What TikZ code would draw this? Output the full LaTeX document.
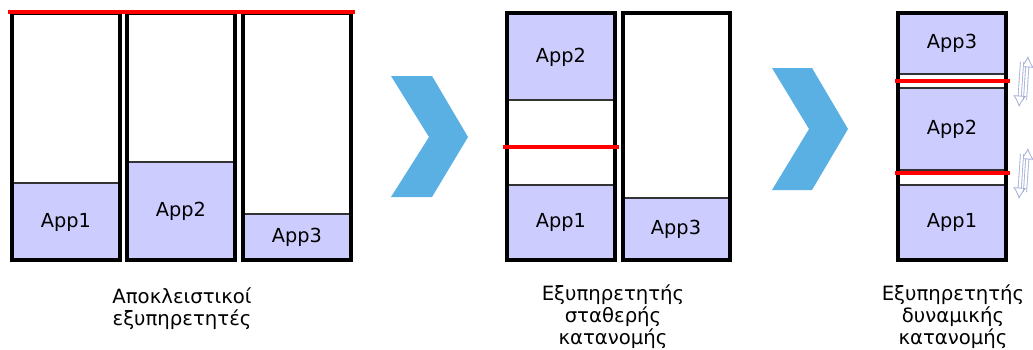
\documentclass[tikz,border=0pt]{standalone}
\usepackage{fontspec}
\setmainfont{DejaVu Sans}
\usetikzlibrary{arrows.meta}
\definecolor{appblue}{HTML}{CCCCFF}
\definecolor{chevblue}{HTML}{5AB0E2}
\definecolor{hintgray}{HTML}{A9B2D8}
\begin{document}
\begin{tikzpicture}[
        x=0.02cm, y=-0.02cm,  % one unit is one pixel of the layout
        srv/.style={draw, line width=1.8pt},
        app/.style={draw=black!80, fill=appblue, line width=0.9pt},
        lim/.style={draw=red, line width=1.9pt},
        chev/.style={fill=chevblue},
        hint/.style={draw=hintgray, line width=0.5pt, double=white, double distance=1.3pt, -{Latex[open,length=6.5pt,width=7.5pt]}},
        every node/.style={font=\fontsize{11}{12.5}\selectfont, align=center},
        lbl/.style={anchor=north, font=\fontsize{11.2}{12.3}\selectfont}
    ]
    \useasboundingbox (0,0) rectangle (1033,349);

    % Dedicated servers
    \draw[app] (12,183) rectangle (120,260);
    \draw[app] (127,162) rectangle (235,260);
    \draw[app] (243,214) rectangle (351,260);
    \node (a1) at (66,222) {App1};
    \node (a2) at (181,211) {App2};
    \node (a3) at (297,237) {App3};
    \draw[srv] (12,13) rectangle (120,260);
    \draw[srv] (127,13) rectangle (235,260);
    \draw[srv] (243,13) rectangle (351,260);
    \draw[lim] (8,12) -- (355,12);
    \node[lbl] (l1) at (182,282) {Αποκλειστικοί\\εξυπηρετητές};

    % First chevron
    \fill[chev] (391,76) -- (432,76) -- (468,137) -- (432,197) -- (391,197) -- (429,137) -- cycle;

    % Static allocation
    \draw[app] (507,13) rectangle (615,100);
    \draw[app] (507,185) rectangle (615,260);
    \draw[app] (623,198) rectangle (730,260);
    \node (b2) at (561,57) {App2};
    \node (b1) at (561,222) {App1};
    \node (b3) at (676,229) {App3};
    \draw[srv] (507,13) rectangle (615,260);
    \draw[srv] (623,13) rectangle (730,260);
    \draw[lim] (503,147) -- (619,147);
    \node[lbl] (l2) at (613,279) {Εξυπηρετητής\\σταθερής\\κατανομής};

    % Second chevron
    \fill[chev] (772,68) -- (812,68) -- (848,129) -- (812,190) -- (772,190) -- (809,129) -- cycle;

    % Dynamic allocation
    \draw[app] (898,13) rectangle (1006,74);
    \draw[app] (898,88) rectangle (1006,170);
    \draw[app] (898,185) rectangle (1006,260);
    \node (c3) at (952,43) {App3};
    \node (c2) at (952,129) {App2};
    \node (c1) at (952,222) {App1};
    \draw[srv] (898,13) rectangle (1006,260);
    \draw[lim] (895,81) -- (1010,81);
    \draw[lim] (895,173) -- (1010,173);
    \node[lbl] (l3) at (953,279) {Εξυπηρετητής\\δυναμικής\\κατανομής};

    % Shift hints
    \draw[hint] (1025,100) -- (1028,56);
    \draw[hint] (1022,62) -- (1019,107);
    \draw[hint] (1025,192) -- (1028,148);
    \draw[hint] (1022,154) -- (1019,199);
\end{tikzpicture}
\end{document}
